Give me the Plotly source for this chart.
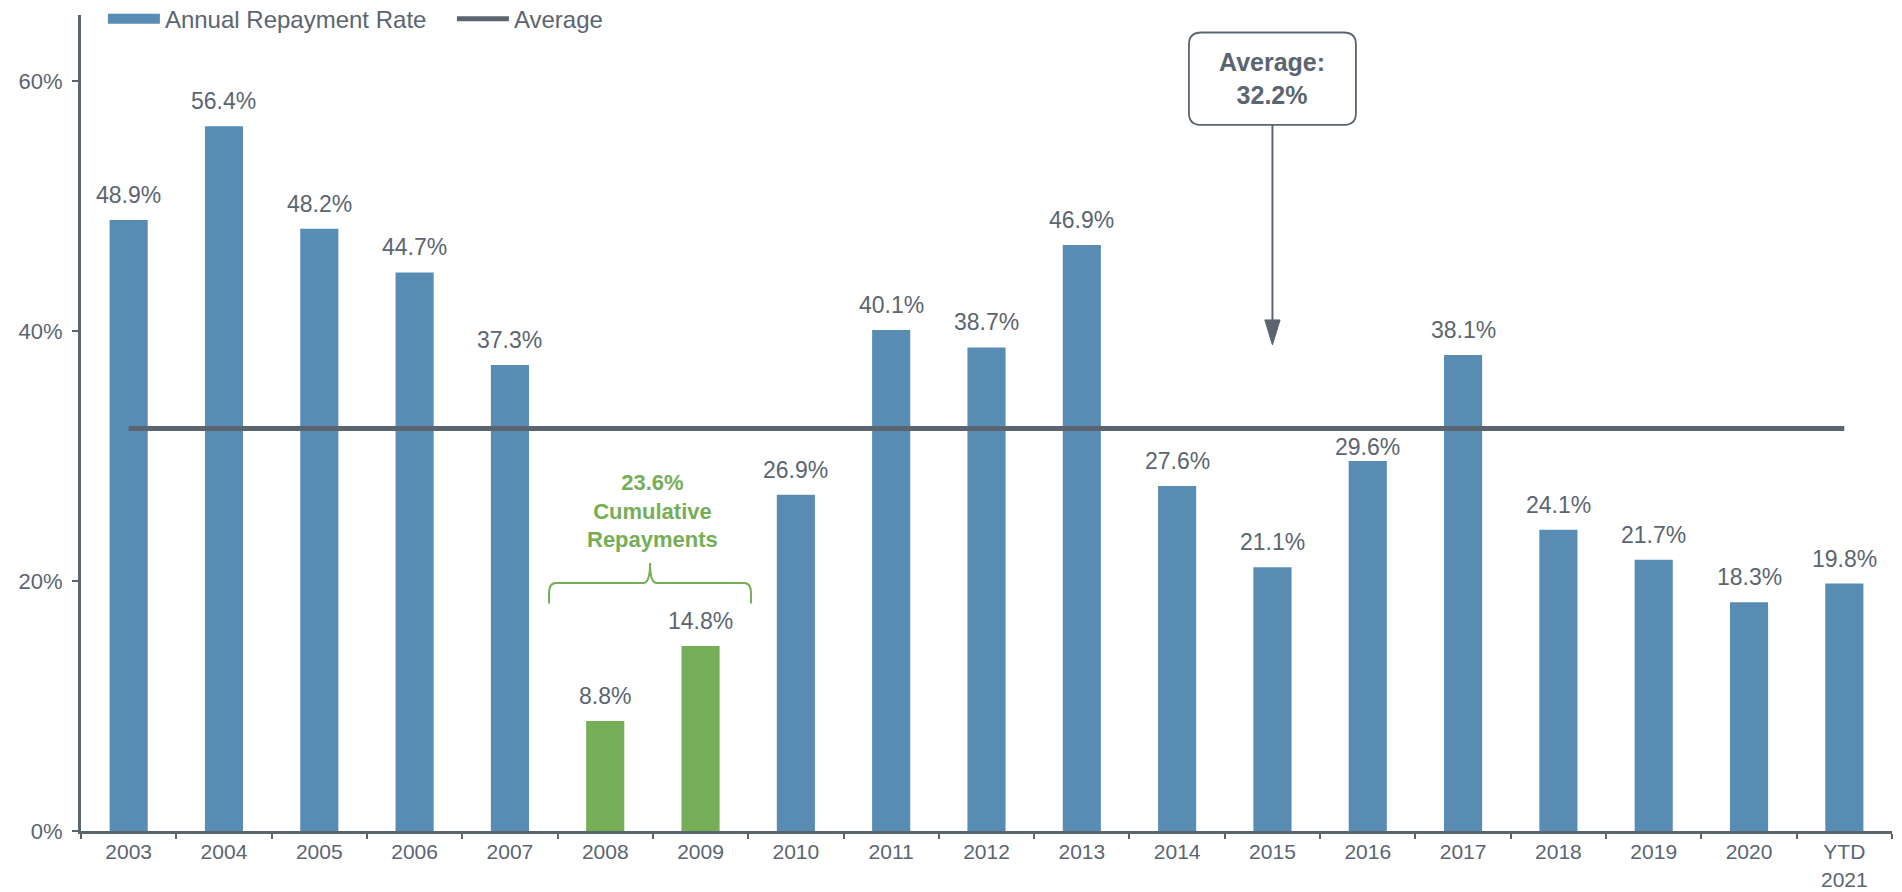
import plotly.graph_objects as go

categories = ["2003", "2004", "2005", "2006", "2007", "2008", "2009", "2010", "2011",
              "2012", "2013", "2014", "2015", "2016", "2017", "2018", "2019", "2020",
              "YTD<br>2021"]
repayment_rate = [48.9, 56.4, 48.2, 44.7, 37.3, 8.8, 14.8, 26.9, 40.1, 38.7, 46.9,
                  27.6, 21.1, 29.6, 38.1, 24.1, 21.7, 18.3, 19.8]
highlight_years = ["2008", "2009"]
average_rate = 32.2
cumulative_label = "23.6%"
y_ticks = [0, 20, 40, 60]

BLUE = "#598cb3"
GREEN = "#76ae57"
GRAY = "#5b6570"
FONT = "Liberation Sans, Arial, sans-serif"

# label offset (px above bar top); the 2016 label sits lower to clear the average line
LABEL_SHIFT = 25
LABEL_SHIFT_OVERRIDE = {"2016": 14}

n = len(categories)
bar_colors = [GREEN if c in highlight_years else BLUE for c in categories]

fig = go.Figure()
fig.add_trace(go.Bar(
    x=categories, y=repayment_rate, marker=dict(color=bar_colors, line=dict(width=0)),
    showlegend=False, name="Annual Repayment Rate"))
# legend swatch for the bars
fig.add_trace(go.Scatter(x=[None], y=[None], mode="lines", xaxis="x2",
                         line=dict(color=BLUE, width=11), name="Annual Repayment Rate"))
fig.add_trace(go.Scatter(x=list(range(n)), y=[average_rate] * n, mode="lines", xaxis="x2",
                         line=dict(color=GRAY, width=5), name="Average", hoverinfo="skip"))

# value labels above bars (x2 shares the category positions by index)
for i, (c, v) in enumerate(zip(categories, repayment_rate)):
    fig.add_annotation(x=i, y=v, xref="x2", yref="y", text=f"{v:.1f}%", showarrow=False,
                       yanchor="middle", yshift=LABEL_SHIFT_OVERRIDE.get(c, LABEL_SHIFT),
                       font=dict(size=23, color=GRAY, family=FONT))

# rounded box for average annotation (x in category index units, y in %)
bx, bhw = 12, 0.876
by0, by1 = 56.5, 63.9
rx, ry = 0.13, 0.96
x0, x1 = bx - bhw, bx + bhw
path = (f"M{x0+rx},{by1} L{x1-rx},{by1} Q{x1},{by1} {x1},{by1-ry} "
        f"L{x1},{by0+ry} Q{x1},{by0} {x1-rx},{by0} L{x0+rx},{by0} "
        f"Q{x0},{by0} {x0},{by0+ry} L{x0},{by1-ry} Q{x0},{by1} {x0+rx},{by1} Z")
fig.add_shape(type="path", path=path, xref="x2", yref="y",
              line=dict(color=GRAY, width=1.8), fillcolor="white", layer="above")
fig.add_annotation(x=bx, y=(by0 + by1) / 2, xref="x2", yref="y",
                   text=f"<b>Average:<br>{average_rate:.1f}%</b>", showarrow=False,
                   font=dict(size=25, color=GRAY, family=FONT))
# arrow
tip_y, head_y = 38.9, 40.9
fig.add_shape(type="line", x0=bx, x1=bx, y0=by0, y1=head_y, xref="x2", yref="y",
              line=dict(color=GRAY, width=2))
hw = 0.08
fig.add_shape(type="path", path=f"M{bx-hw},{head_y} L{bx+hw},{head_y} L{bx},{tip_y} Z",
              xref="x2", yref="y", line=dict(color=GRAY, width=1), fillcolor=GRAY)

# curly brace over 2008-2009
cx, L, R = 5.47, 4.41, 6.53
yb, yh, yt = 18.2, 19.85, 21.45
ddx = 0.07
dy = 0.9
brace = (f"M{L},{yb} L{L},{yh-dy} Q{L},{yh} {L+ddx},{yh} L{cx-ddx},{yh} "
         f"Q{cx},{yh} {cx},{yt} Q{cx},{yh} {cx+ddx},{yh} L{R-ddx},{yh} "
         f"Q{R},{yh} {R},{yh-dy} L{R},{yb}")
fig.add_shape(type="path", path=brace, xref="x2", yref="y",
              line=dict(color=GREEN, width=2))
fig.add_annotation(x=5.5, y=25.6, xref="x2", yref="y",
                   text=f"<b>{cumulative_label}<br>Cumulative<br>Repayments</b>",
                   showarrow=False, font=dict(size=22, color=GREEN, family=FONT))

fig.update_layout(
    width=1902, height=892,
    margin=dict(l=81, r=10, t=15, b=61, autoexpand=False),
    plot_bgcolor="white", paper_bgcolor="white",
    bargap=0.6,
    font=dict(family=FONT, color=GRAY, size=22),
    legend=dict(orientation="h", x=0.0121, xanchor="left", y=0.995, yanchor="middle",
                font=dict(size=24, color=GRAY, family=FONT), itemwidth=52,
                entrywidth=282, entrywidthmode="pixels",
                bgcolor="rgba(0,0,0,0)", traceorder="normal"),
    xaxis=dict(type="category", range=[-0.5, n - 0.5], showgrid=False,
               showline=True, linecolor=GRAY, linewidth=3, ticks="outside",
               tickson="boundaries", ticklen=5, tickwidth=2, tickcolor=GRAY,
               tickfont=dict(size=21, color=GRAY, family=FONT), zeroline=False,
               ticklabelstandoff=0),
    xaxis2=dict(overlaying="x", range=[-0.5, n - 0.5], visible=False, showgrid=False,
                zeroline=False),
    yaxis=dict(range=[0, 65.3], tickvals=y_ticks, ticktext=[f"{t}%" for t in y_ticks],
               showgrid=False, showline=True, linecolor=GRAY, linewidth=3,
               ticks="outside", ticklen=6, tickwidth=2, tickcolor=GRAY,
               tickfont=dict(size=22, color=GRAY, family=FONT), zeroline=False,
               ticklabelstandoff=5),
)

fig.write_html("out.html", config={"displayModeBar": False},
               post_script="document.body.style.margin='0px';")
